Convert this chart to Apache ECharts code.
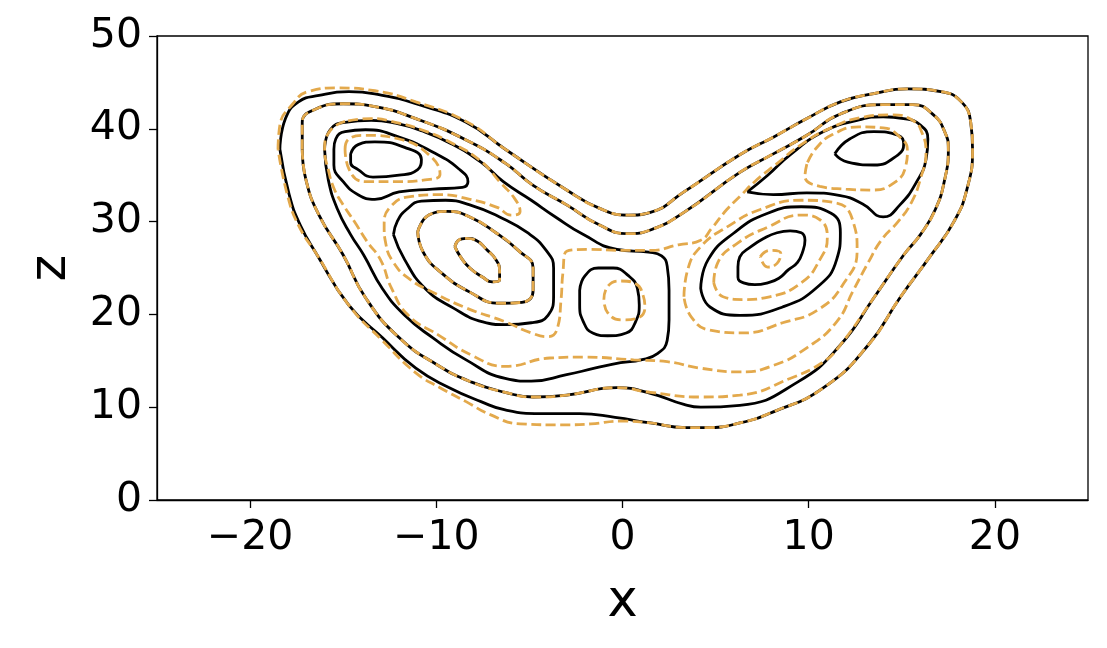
<!DOCTYPE html>
<html>
<head>
<meta charset="utf-8">
<script src="https://cdn.jsdelivr.net/npm/echarts@6/dist/echarts.min.js"></script>
<style>
  html, body { margin: 0; padding: 0; background: #fff; }
  #chart { width: 1107px; height: 648px; }
</style>
</head>
<body>
<div id="chart"></div>
<script>
// tick labels
const xTicks = [-20, -10, 0, 10, 20];

// black (solid) contours, [x, z]
const b1 = [[-18.4,37.8],[-18.1,41.1],[-17.4,42.9],[-16.3,43.6],[-14.7,44.0],[-12.9,43.6],[-11.1,42.7],[-8.4,40.7],[-6.3,37.8],[-3.0,33.4],[-1.2,31.4],[0.3,30.7],[1.5,31.0],[3.3,33.2],[6.3,37.2],[8.1,39.1],[9.9,41.1],[11.7,42.9],[13.5,43.8],[15.3,44.3],[17.1,44.0],[18.2,42.9],[18.7,40.7],[18.8,37.8],[18.5,33.5],[17.8,30.0],[16.5,26.2],[14.9,21.8],[13.2,16.7],[10.8,12.1],[8.1,9.5],[6.3,8.3],[4.5,7.8],[3.4,7.8],[1.5,8.3],[-0.4,8.9],[-2.3,9.3],[-4.4,9.3],[-6.3,9.7],[-7.6,10.6],[-9.3,12.1],[-11.1,14.2],[-12.9,17.5],[-14.7,21.0],[-16.4,26.4],[-17.3,29.6],[-17.9,32.9]];
const b2 = [[-17.2,37.8],[-17.2,40.7],[-16.5,42.1],[-15.0,42.7],[-13.3,42.4],[-11.1,41.1],[-8.4,38.8],[-6.3,36.3],[-4.8,33.9],[-3.0,31.8],[-1.2,29.6],[0.3,28.7],[1.5,29.1],[3.3,31.0],[6.3,35.3],[8.1,37.3],[9.9,39.3],[11.7,41.6],[14.0,42.6],[15.6,42.6],[16.7,41.5],[17.3,39.7],[17.5,37.8],[17.3,34.5],[16.8,31.3],[16.0,28.6],[15.1,26.4],[13.5,21.8],[11.7,16.7],[9.4,12.7],[6.3,10.2],[4.2,10.0],[3.3,10.3],[1.5,11.5],[-0.3,12.1],[-3.0,11.3],[-4.8,11.1],[-6.3,11.6],[-8.1,12.7],[-9.9,14.5],[-12.0,17.5],[-13.8,21.8],[-15.0,26.4],[-16.3,30.7],[-17.0,34.5]];
const b3 = [[-16.0,37.8],[-15.7,39.9],[-14.9,40.7],[-13.5,40.9],[-12.2,40.6],[-10.8,39.8],[-9.2,38.4],[-7.6,36.4],[-6.4,34.3],[-4.9,32.3],[-3.6,30.5],[-2.1,28.6],[-0.3,27.0],[1.4,26.7],[2.1,26.3],[2.4,25.2],[2.5,22.6],[2.5,19.4],[2.4,17.2],[1.9,15.8],[1.0,15.1],[-0.1,14.8],[-1.5,14.2],[-3.0,13.5],[-4.9,12.8],[-6.3,13.1],[-8.4,15.1],[-10.2,17.5],[-11.7,19.9],[-12.9,22.8],[-13.9,26.4],[-14.6,28.6],[-15.3,31.3],[-15.8,34.5]];
const b4ul = [[-15.5,37.8],[-15.4,38.9],[-14.9,39.7],[-13.8,39.9],[-12.0,39.1],[-10.2,37.5],[-8.8,35.7],[-8.3,34.3],[-8.6,33.7],[-10.2,33.5],[-12.0,33.2],[-13.3,32.4],[-14.2,32.9],[-15.0,34.3],[-15.5,36.1]];
const b5ul = [[-14.6,37.3],[-14.2,38.3],[-13.3,38.6],[-11.7,38.0],[-10.8,36.7],[-11.0,35.6],[-12.0,35.0],[-13.4,34.8],[-14.2,35.6],[-14.6,36.4]];
const b4l = [[-12.3,28.6],[-12.1,30.0],[-11.6,31.3],[-10.8,32.2],[-9.5,32.3],[-8.2,31.8],[-6.6,30.5],[-5.1,28.8],[-4.1,26.9],[-3.7,25.0],[-3.7,22.1],[-4.0,19.9],[-4.9,19.1],[-6.3,18.9],[-7.5,19.2],[-9.1,20.7],[-10.6,22.8],[-11.7,25.9]];
const b5l = [[-11.0,28.9],[-10.4,30.7],[-9.4,31.1],[-8.2,30.5],[-6.8,28.8],[-5.6,26.9],[-4.8,25.0],[-4.8,22.6],[-5.4,21.3],[-6.6,21.2],[-8.2,22.4],[-9.8,24.6],[-10.7,26.7]];
const b6l = [[-9.0,27.3],[-8.8,28.0],[-8.4,28.2],[-7.8,27.9],[-7.3,27.0],[-6.8,25.9],[-6.6,24.7],[-6.6,23.7],[-7.0,23.5],[-7.5,24.0],[-8.2,25.0],[-8.7,26.2]];
const bCenter = [[-2.3,22.6],[-2.0,24.2],[-1.3,25.0],[-0.5,25.0],[0.3,24.2],[0.8,22.8],[0.9,21.0],[0.7,19.2],[0.2,18.0],[-0.8,17.7],[-1.6,18.0],[-2.1,19.2],[-2.3,21.0]];
const b3ur = [[6.7,33.2],[8.1,32.9],[9.9,33.1],[11.7,32.8],[12.9,31.9],[14.0,30.5],[14.9,31.8],[15.8,34.3],[16.3,36.7],[16.4,38.9],[16.0,40.4],[15.1,41.1],[14.0,41.3],[12.6,40.9],[10.8,39.7],[9.0,37.2],[7.8,35.0]];
const b4ur = [[11.4,37.3],[12.2,38.9],[13.5,39.7],[14.8,39.3],[15.1,38.4],[14.8,37.2],[13.5,36.1],[12.1,36.4]];
const b3r = [[4.2,22.8],[4.6,25.9],[6.0,28.8],[7.8,30.9],[9.6,31.6],[11.2,30.9],[11.7,28.8],[11.5,25.9],[10.5,23.0],[8.6,20.8],[6.3,19.9],[4.7,20.8]];
const b4r = [[6.2,25.1],[6.3,26.2],[6.9,27.3],[7.6,28.2],[8.3,28.8],[9.0,29.0],[9.6,28.8],[9.8,28.0],[9.7,26.9],[9.4,25.6],[8.9,24.8],[8.4,23.9],[7.8,23.4],[7.1,23.2],[6.5,23.4],[6.2,24.0]];

// orange (dashed) contours, [x, z]
const o1 = [[-18.5,37.8],[-18.4,40.4],[-17.7,42.7],[-16.9,44.0],[-15.3,44.4],[-13.3,44.1],[-11.1,42.9],[-8.4,40.8],[-6.3,37.8],[-3.0,33.4],[-1.2,31.4],[0.3,30.7],[1.5,31.0],[3.3,33.2],[6.3,37.2],[8.1,39.1],[9.9,41.1],[11.7,42.9],[13.5,43.8],[15.3,44.3],[17.1,44.0],[18.2,42.9],[18.7,40.7],[18.8,37.8],[18.5,33.5],[17.8,30.0],[16.5,26.2],[14.9,21.8],[13.2,16.7],[10.8,12.1],[8.1,9.5],[6.3,8.3],[4.5,7.8],[3.4,7.8],[1.5,8.3],[-0.1,8.5],[-1.7,8.2],[-3.3,8.1],[-5.5,8.2],[-7.1,9.2],[-8.4,10.6],[-9.8,12.1],[-11.1,13.7],[-12.9,17.2],[-14.7,21.0],[-16.4,26.4],[-17.4,29.6],[-18.0,32.9]];
const o2 = [[-17.2,37.8],[-17.2,40.7],[-16.5,42.1],[-15.0,42.7],[-13.3,42.4],[-11.1,41.1],[-8.4,38.8],[-6.3,36.3],[-4.8,33.9],[-3.0,31.8],[-1.2,29.6],[0.3,28.7],[1.5,29.1],[3.3,31.0],[6.3,35.3],[8.1,37.3],[9.9,39.3],[11.7,41.6],[14.0,42.6],[15.6,42.6],[16.7,41.5],[17.3,39.7],[17.5,37.8],[17.3,34.5],[16.8,31.3],[16.0,28.6],[15.1,26.4],[13.5,21.8],[11.7,16.7],[10.8,14.9],[9.0,13.1],[6.3,11.3],[4.2,11.1],[1.5,11.6],[-0.3,12.1],[-3.0,11.3],[-4.8,11.1],[-6.3,11.6],[-8.1,12.7],[-9.9,14.5],[-12.0,17.5],[-13.8,21.8],[-15.0,26.4],[-16.3,30.7],[-17.0,34.5]];
const o3 = [[-14.9,40.8],[-15.7,39.8],[-16.0,37.7],[-15.8,35.6],[-15.5,33.6],[-15.0,31.8],[-14.4,30.0],[-13.7,27.8],[-13.0,25.9],[-12.4,22.8],[-11.5,19.9],[-9.9,17.8],[-8.1,15.6],[-6.3,14.4],[-3.9,15.3],[-2.1,15.4],[0.6,15.1],[2.4,14.9],[4.2,14.2],[6.3,13.8],[8.1,14.5],[9.9,16.4],[11.5,19.2],[12.4,22.6],[13.2,25.6],[13.9,28.0],[14.8,30.0],[15.5,32.0],[16.0,34.6],[16.3,37.5],[16.1,39.5],[15.6,40.9],[14.4,41.5],[12.8,41.2],[11.2,40.1],[9.6,38.3],[8.2,36.1],[7.1,34.3],[6.3,32.7],[5.6,31.3],[4.8,29.3],[4.2,28.0],[3.0,27.5],[1.5,26.9],[-0.1,26.9],[-1.7,27.0],[-3.0,26.8],[-3.2,24.5],[-3.3,21.6],[-3.5,18.5],[-4.0,17.6],[-4.9,18.0],[-6.3,19.2],[-8.4,20.7],[-10.2,22.4],[-11.5,23.9],[-12.3,25.6],[-12.7,27.5],[-12.8,29.6],[-12.5,31.5],[-11.4,32.7],[-9.8,32.9],[-8.2,32.4],[-6.7,31.5],[-6.0,30.7],[-5.5,31.1],[-5.8,32.5],[-6.6,34.3],[-7.6,36.5],[-9.2,38.5],[-10.8,39.9],[-12.2,40.7],[-13.5,41.1]];
const oUL = [[-14.9,37.8],[-14.7,38.9],[-13.8,39.3],[-12.0,38.9],[-10.4,37.2],[-9.8,35.1],[-10.6,34.5],[-12.0,34.3],[-13.8,34.3],[-14.7,35.7]];
const o5l = [[-11.0,28.9],[-10.4,30.7],[-9.4,31.1],[-8.2,30.5],[-6.8,28.8],[-5.6,26.9],[-4.8,25.0],[-4.8,22.6],[-5.4,21.3],[-6.6,21.2],[-8.2,22.4],[-9.8,24.6],[-10.7,26.7]];
const o6l = [[-9.0,27.3],[-8.8,28.0],[-8.4,28.2],[-7.8,27.9],[-7.3,27.0],[-6.8,25.9],[-6.6,24.7],[-6.6,23.7],[-7.0,23.5],[-7.5,24.0],[-8.2,25.0],[-8.7,26.2]];
const oCenter = [[-1.0,21.6],[-0.8,23.0],[-0.1,23.6],[0.7,23.3],[1.1,22.1],[1.2,20.8],[0.9,19.7],[0.0,19.4],[-0.8,20.2]];
const oUR = [[9.9,36.2],[9.8,34.9],[10.6,33.8],[12.0,33.5],[13.4,33.4],[14.6,34.2],[15.2,35.9],[15.3,37.7],[14.9,39.1],[14.0,40.1],[12.7,40.2],[11.3,39.4],[10.4,37.9]];
const oRout = [[3.3,21.9],[3.5,24.8],[4.2,27.3],[5.6,29.4],[7.4,31.3],[9.6,32.3],[11.5,32.0],[12.4,29.9],[12.6,26.9],[11.9,23.4],[10.5,20.5],[8.6,19.1],[6.5,18.0],[4.7,18.3],[3.7,19.7]];
const oRin = [[4.9,23.4],[5.1,25.5],[6.2,27.7],[7.8,29.4],[9.6,30.7],[10.6,30.2],[11.0,28.3],[10.6,25.9],[9.6,23.4],[7.9,21.9],[6.5,21.6],[5.4,21.9]];
const oRtiny = [[7.4,26.2],[7.9,26.9],[8.5,26.6],[8.3,25.5],[7.8,25.1]];

const blackContours = [b1, b2, b3, b4ul, b5ul, b4l, b5l, b6l, bCenter, b3ur, b4ur, b3r, b4r];
const orangeContours = [o1, o2, o3, oUL, o5l, o6l, oCenter, oUR, oRout, oRin, oRtiny];

function closed(pts) {
  return pts.concat([pts[0]]);
}

const series = [];
blackContours.forEach(function (c) {
  series.push({
    type: 'line', data: closed(c), smooth: 0.5, showSymbol: false, silent: true, z: 2,
    lineStyle: { color: '#000000', width: 2.8 }
  });
});
orangeContours.forEach(function (c) {
  series.push({
    type: 'line', data: closed(c), smooth: 0.5, showSymbol: false, silent: true, z: 3,
    lineStyle: { color: '#e3a94c', width: 2.8, type: [10, 4.5] }
  });
});

const minus = function (v) { return v < 0 ? '\u2212' + Math.abs(v) : String(v); };

const chart = echarts.init(document.getElementById('chart'));
chart.setOption({
  animation: false,
  backgroundColor: '#ffffff',
  grid: {
    left: 157, right: 19, top: 36, bottom: 148,
    show: true, borderColor: '#000', borderWidth: 1.3
  },
  xAxis: {
    type: 'value', min: -25, max: 25,
    name: 'x', nameLocation: 'middle', nameGap: 77,
    nameTextStyle: { fontSize: 51, color: '#000', fontFamily: 'DejaVu Sans' },
    axisLine: { onZero: false, lineStyle: { color: '#000', width: 1.3 } },
    axisTick: { customValues: xTicks, length: 8, lineStyle: { color: '#000', width: 1.3 } },
    axisLabel: { customValues: xTicks, fontSize: 41, color: '#000', margin: 18,
      fontFamily: 'DejaVu Sans', formatter: minus },
    splitLine: { show: false }
  },
  yAxis: {
    type: 'value', min: 0, max: 50, interval: 10,
    name: 'z', nameLocation: 'middle', nameGap: 80, nameRotate: 90,
    nameTextStyle: { fontSize: 51, color: '#000', fontFamily: 'DejaVu Sans' },
    axisLine: { onZero: false, lineStyle: { color: '#000', width: 1.3 } },
    axisTick: { length: 8, lineStyle: { color: '#000', width: 1.3 } },
    axisLabel: { fontSize: 41, color: '#000', margin: 15, fontFamily: 'DejaVu Sans' },
    splitLine: { show: false }
  },
  series: series
});
</script>
</body>
</html>
